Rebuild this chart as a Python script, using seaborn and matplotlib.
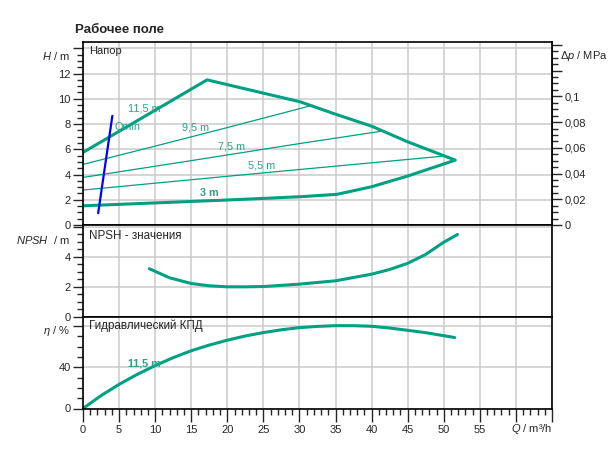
import numpy as np
import matplotlib
matplotlib.use("Agg")
import matplotlib.pyplot as plt
from matplotlib.ticker import FixedLocator, FixedFormatter
import seaborn as sns

# Данные
# Рабочее поле: огибающая (макс. и мин. кривые)
env_q = [0, 17.2, 30.1, 35, 40, 45, 51.6, 45, 40, 35.2, 30.1, 20, 10, 0]
env_h = [5.75, 11.5, 9.76, 8.78, 7.83, 6.59, 5.14, 3.88, 3.03, 2.43, 2.24, 1.98, 1.75, 1.52]

# Промежуточные кривые напора
h95_q = [0, 10, 20, 30.1, 31.8]
h95_h = [4.8, 6.25, 7.72, 9.23, 9.49]
h75_q = [0, 15, 30.1, 41.7]
h75_h = [3.77, 5.1, 6.46, 7.46]
h55_q = [0, 25, 50]
h55_h = [2.77, 4.13, 5.46]

# Qmin
qmin_q = [2.1, 4.07]
qmin_h = [0.93, 8.65]

# NPSH
npsh_q = [9.2, 12, 15, 17.5, 20, 22.5, 25, 30, 35, 40, 42.5, 45, 47.5, 50, 51.9]
npsh_v = [3.2, 2.6, 2.22, 2.07, 2.0, 2.0, 2.02, 2.18, 2.4, 2.84, 3.15, 3.56, 4.15, 4.96, 5.47]

# Гидравлический КПД
eta_q = [0, 2.5, 5, 7.5, 10, 12.5, 15, 17.5, 20, 22.5, 25, 27.5, 30, 32.5, 35,
         37.5, 40, 42.5, 45, 47.5, 51.5]
eta_v = [0, 12.5, 23.4, 33, 41.6, 49.3, 56, 61.5, 66.2, 70.3, 73.6, 76.3, 78.4,
         79.6, 80.3, 80.3, 79.7, 78, 75.8, 73.5, 68.8]

curve_labels = [("11,5 m", 6.25, 9.2, "normal"), ("Qmin", 4.4, 7.75, "normal"),
                ("9,5 m", 13.75, 7.75, "normal"), ("7,5 m", 18.75, 6.25, "normal"),
                ("5,5 m", 22.9, 4.75, "normal"), ("3 m", 16.25, 2.53, "bold")]

TEAL = "#00a082"
TEAL_TXT = "#22a68a"
GRID = "#cacaca"

sns.set_style("white")
plt.rcParams["font.family"] = ["Liberation Sans", "DejaVu Sans"]
plt.rcParams["mathtext.fontset"] = "custom"
plt.rcParams["mathtext.it"] = "Liberation Sans:italic"
plt.rcParams["mathtext.rm"] = "Liberation Sans"
plt.rcParams["font.size"] = 8

W, H = 613, 454
fig = plt.figure(figsize=(W / 100, H / 100), dpi=100)


def add_axes(top, bottom):
    return fig.add_axes([83 / W, 1 - bottom / H, (552 - 83) / W, (bottom - top) / H])


ax1 = add_axes(42, 225)
ax2 = add_axes(225, 317)
ax3 = add_axes(317, 408.5)


def style_axes(ax, ylim, majors, labels, minor_step):
    ax.set_xlim(0, 65)
    ax.set_ylim(*ylim)
    ax.set_xticks(np.arange(0, 66, 5))
    ax.yaxis.set_major_locator(FixedLocator(majors))
    ax.yaxis.set_major_formatter(FixedFormatter(labels))
    ax.yaxis.set_minor_locator(FixedLocator(np.arange(0, ylim[1], minor_step)))
    ax.grid(True, color=GRID, linewidth=1.1)
    ax.set_axisbelow(True)
    for s in ax.spines.values():
        s.set_color("black")
        s.set_linewidth(1.2)
    ax.tick_params(axis="y", which="major", direction="out", length=7, width=1, left=True, labelsize=8, pad=2)
    ax.tick_params(axis="y", which="minor", direction="out", length=4, width=1, left=True)


style_axes(ax1, (0, 14.5), [0, 2, 4, 6, 8, 10, 12, 14], ["0", "2", "4", "6", "8", "10", "12", ""], 0.5)
style_axes(ax2, (0, 6.1), [0, 2, 4, 6], ["0", "2", "4", ""], 0.5)
style_axes(ax3, (0, 88.7), [0, 40, 80], ["0", "40", ""], 10)

for ax in (ax1, ax2):
    ax.tick_params(axis="x", which="both", bottom=False, labelbottom=False, length=0)

ax3.xaxis.set_major_formatter(FixedFormatter([str(v) for v in range(0, 60, 5)] + ["", ""]))
ax3.xaxis.set_minor_locator(FixedLocator(np.arange(0, 65, 1)))
ax3.tick_params(axis="x", which="major", direction="out", length=9, width=1, bottom=True, labelsize=8, pad=3)
ax3.tick_params(axis="x", which="minor", direction="out", length=4, width=1, bottom=True)

# Правая ось давления
sec = ax1.secondary_yaxis("right", functions=(lambda h: h * 0.00981, lambda p: p / 0.00981))
p_major = [0, 0.02, 0.04, 0.06, 0.08, 0.1, 0.12, 0.14]
sec.yaxis.set_major_locator(FixedLocator(p_major))
sec.yaxis.set_major_formatter(FixedFormatter(["0", "0,02", "0,04", "0,06", "0,08", "0,1", "", ""]))
sec.yaxis.set_minor_locator(FixedLocator(np.arange(0, 0.1425, 0.005)))
sec.tick_params(which="major", direction="out", length=7, width=1, labelsize=8, pad=2)
sec.tick_params(which="minor", direction="out", length=4, width=1)
sec.spines["right"].set_linewidth(1.2)

# Кривые напора
sns.lineplot(x=env_q, y=env_h, ax=ax1, sort=False, estimator=None, color=TEAL, linewidth=2.2)
for q, h in [(h95_q, h95_h), (h75_q, h75_h), (h55_q, h55_h)]:
    sns.lineplot(x=q, y=h, ax=ax1, sort=False, estimator=None, color=TEAL, linewidth=0.9)
sns.lineplot(x=qmin_q, y=qmin_h, ax=ax1, sort=False, estimator=None, color="#0000ff", linewidth=1.6)

for txt, x, y, w in curve_labels:
    ax1.text(x, y, txt, color=TEAL_TXT, fontsize=7.8, fontweight=w, va="center", ha="left")

sns.lineplot(x=npsh_q, y=npsh_v, ax=ax2, sort=False, estimator=None, color=TEAL, linewidth=2.2)
sns.lineplot(x=eta_q, y=eta_v, ax=ax3, sort=False, estimator=None, color=TEAL, linewidth=2.2)
ax3.text(6.25, 43.8, "11,5 m", color=TEAL_TXT, fontsize=7.8, fontweight="bold", va="center", ha="left")

for ax in (ax1, ax2, ax3):
    ax.set_xlabel("")
    ax.set_ylabel("")


def ftext(x, y, s, **kw):
    fig.text(x / W, 1 - y / H, s, va="center", **kw)


ftext(75, 30, "Рабочее поле", fontsize=9.5, fontweight="bold", ha="left")
ftext(89, 51, "Напор", fontsize=8, ha="left")
ftext(89, 236, "NPSH - значения", fontsize=8.4, ha="left")
ftext(89, 326, "Гидравлический КПД", fontsize=8.4, ha="left")
ftext(70, 56, "$H$ / m", fontsize=8, ha="right")
ftext(560, 56, "$Δp$ / MPa", fontsize=8, ha="left")
ftext(70, 240, "$NPSH$  / m", fontsize=8, ha="right")
ftext(70, 331, "$η$ / %", fontsize=8, ha="right")
ftext(552, 429, "$Q$ / m³/h", fontsize=8, ha="right")

fig.savefig("out.png", dpi=100)
